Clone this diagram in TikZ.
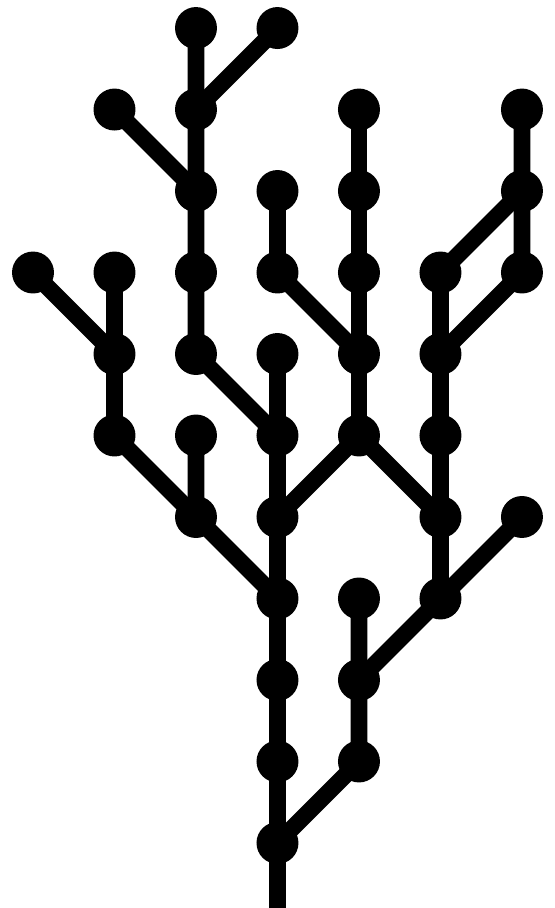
\documentclass[tikz,border=0pt]{standalone}
\usepackage{xcolor}
\usetikzlibrary{backgrounds}

\begin{document}
\begin{tikzpicture}[x=1cm, y=1cm,
      dot/.style={circle, fill=black, inner sep=0pt, minimum size=5.15mm},
      twig/.style={draw=black, line width=5.9pt}]
    \useasboundingbox (-0.405,-0.798) rectangle (6.405,10.344);
    \foreach \c/\r in {3/0, 3/1, 4/1, 3/2, 4/2, 3/3, 4/3, 5/3,
                       2/4, 3/4, 5/4, 6/4, 1/5, 2/5, 3/5, 4/5, 5/5,
                       1/6, 2/6, 3/6, 4/6, 5/6,
                       0/7, 1/7, 2/7, 3/7, 4/7, 5/7, 6/7,
                       2/8, 3/8, 4/8, 6/8, 1/9, 2/9, 4/9, 6/9, 2/10, 3/10}
      \node[dot] (n\c-\r) at (\c,\r) {};
    \coordinate (root) at (3,-0.8);
    \begin{pgfonlayer}{background}
    \draw[twig] (root) -- (n3-0.center) -- (n3-1.center) -- (n3-2.center) -- (n3-3.center)
          -- (n3-4.center) -- (n3-5.center) -- (n3-6.center);
    \draw[twig] (n3-0.center) -- (n4-1.center) -- (n4-2.center) -- (n4-3.center);
    \draw[twig] (n4-2.center) -- (n5-3.center) -- (n6-4.center);
    \draw[twig] (n5-3.center) -- (n5-4.center) -- (n5-5.center) -- (n5-6.center) -- (n5-7.center);
    \draw[twig] (n5-4.center) -- (n4-5.center) -- (n3-4.center);
    \draw[twig] (n4-5.center) -- (n4-6.center) -- (n4-7.center) -- (n4-8.center) -- (n4-9.center);
    \draw[twig] (n4-6.center) -- (n3-7.center) -- (n3-8.center);
    \draw[twig] (n5-6.center) -- (n6-7.center) -- (n6-8.center) -- (n6-9.center);
    \draw[twig] (n5-7.center) -- (n6-8.center);
    \draw[twig] (n3-3.center) -- (n2-4.center) -- (n2-5.center);
    \draw[twig] (n2-4.center) -- (n1-5.center) -- (n1-6.center) -- (n1-7.center);
    \draw[twig] (n1-6.center) -- (n0-7.center);
    \draw[twig] (n3-5.center) -- (n2-6.center) -- (n2-7.center) -- (n2-8.center)
          -- (n2-9.center) -- (n2-10.center);
    \draw[twig] (n2-8.center) -- (n1-9.center);
    \draw[twig] (n2-9.center) -- (n3-10.center);
    \end{pgfonlayer}
  \end{tikzpicture}
\end{document}
